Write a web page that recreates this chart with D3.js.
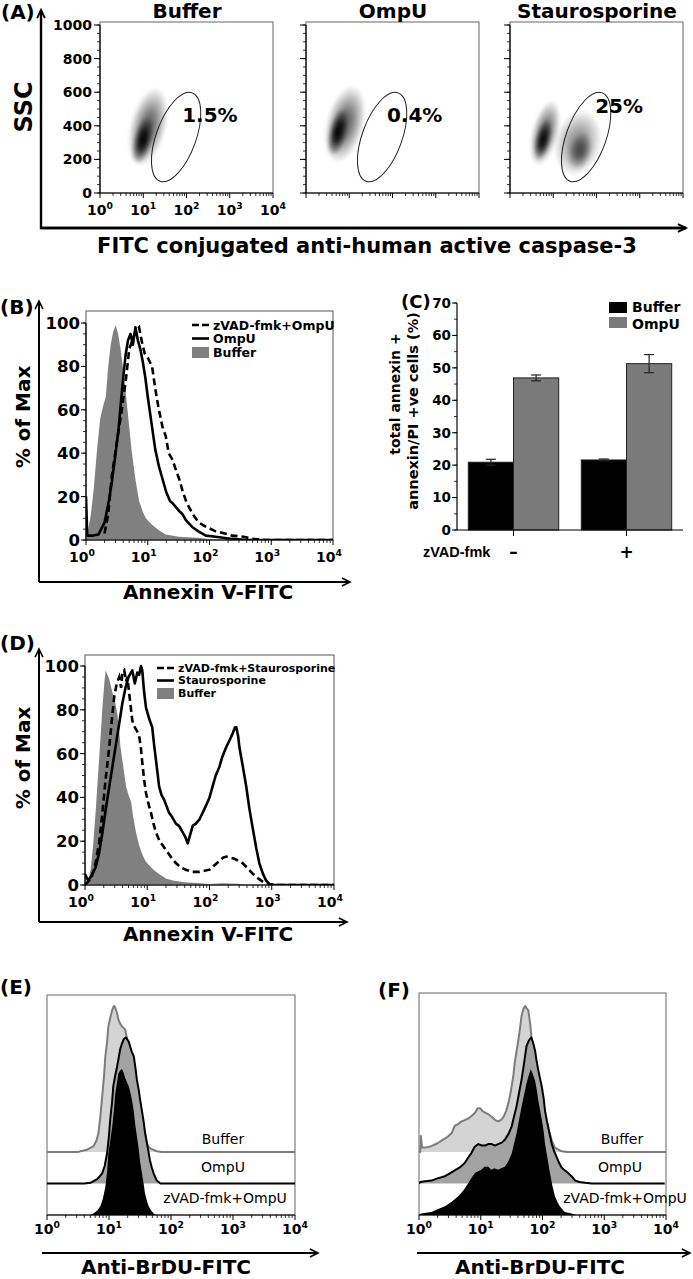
<!DOCTYPE html>
<html><head><meta charset="utf-8">
<script src="https://cdn.jsdelivr.net/npm/d3@7/dist/d3.min.js"></script>
<style>
html,body{margin:0;padding:0;background:#fff;}
svg{display:block;}
svg text{font-family:"DejaVu Sans","Liberation Sans",Arial,sans-serif;}
</style></head><body>
<svg id="fig" width="693" height="1279" viewBox="0 0 693 1279"></svg>
<script>
// ================= DATA =================
const decadeExps = [0,1,2,3,4];
const sscTicks = [0,200,400,600,800,1000];
const pctTicks = [0,20,40,60,80,100];
const barTicks = [0,10,20,30,40,50,60,70];

// Panel A : SSC vs FITC anti-active caspase-3 density plots
const aTitles = ["Buffer","OmpU","Staurosporine"];
const aGatePercent = ["1.5%","0.4%","25%"];
const aPercentAnchor = [[1.9,423],[1.87,423],[1.97,476]];   // [log10 FITC, SSC]
const aGate = [1.76, 333, 0.46, 280];                          // centre log10 FITC, centre SSC, half-width (decades), half-height (SSC)
// populations: [log10 FITC centre, SSC centre, half-width (decades), half-height (SSC), density]
const aDensBuffer = [[1.11,393,0.42,240,0.62],[0.99,315,0.23,145,1.0]];
const aDensOmpU   = [[0.9,410,0.44,235,0.62],[0.74,363,0.22,145,1.0]];
const aDensStauro = [[0.81,357,0.31,200,0.62],[0.76,315,0.19,125,0.95],[1.57,298,0.54,200,0.45],[1.62,250,0.28,115,0.55]];

// Panel B : Annexin V-FITC histograms (log10 intensity, % of max)
const bLegend = ["zVAD-fmk+OmpU","OmpU","Buffer"];
const bBuffer = [[0,0],[0.03,4],[0.08,12],[0.13,25],[0.18,42],[0.23,56],[0.28,62],[0.32,66],[0.36,80],[0.4,90],[0.44,96],[0.48,99],[0.52,95],[0.56,88],[0.6,79],[0.64,69],[0.69,55],[0.74,41],[0.8,28],[0.86,18],[0.92,13],[0.97,10],[1.07,7],[1.18,4.5],[1.29,2.5],[1.5,1.5],[1.8,1],[2.0,0.5],[2.3,0],[4,0]];
const bOmpU = [[0,20],[0.02,2],[0.1,2],[0.2,2.5],[0.3,8],[0.37,18],[0.42,27],[0.48,40],[0.53,52],[0.58,68],[0.64,85],[0.68,92],[0.72,95],[0.76,90],[0.8,98],[0.84,92],[0.88,88],[0.92,82],[0.96,75],[1.0,66],[1.04,58],[1.07,52],[1.12,42],[1.18,34],[1.24,28],[1.3,22],[1.36,18],[1.4,17],[1.46,15],[1.52,13],[1.56,12],[1.62,9],[1.72,6],[1.82,4],[1.94,2],[2.1,1.5],[2.37,0.5],[2.6,0],[4,0]];
const bZvadOmpU = [[0.3,3],[0.36,12],[0.42,30],[0.5,45],[0.59,62],[0.65,75],[0.7,88],[0.75,92],[0.8,96],[0.86,98],[0.9,92],[0.95,86],[1.0,84],[1.07,80],[1.12,70],[1.18,60],[1.24,52],[1.29,48],[1.34,40],[1.4,37],[1.46,32],[1.51,28],[1.57,22],[1.62,18],[1.67,15],[1.75,11],[1.83,8],[1.95,6],[2.1,4],[2.25,3],[2.37,2],[2.55,1.5],[2.7,0.5],[2.9,0],[4,0]];

// Panel C : bar chart
const cGroups = ["\u2013","+"];
const cSeries = ["Buffer","OmpU"];
const cBuffer = [20.9, 21.6];
const cBufferErr = [0.9, 0.3];
const cOmpU = [46.9, 51.3];
const cOmpUErr = [0.9, 2.8];

// Panel D : Annexin V-FITC histograms
const dLegend = ["zVAD-fmk+Staurosporine","Staurosporine","Buffer"];
const dBuffer = [[0,20],[0.015,1],[0.05,2],[0.09,7],[0.13,18],[0.17,33],[0.2,46],[0.23,59],[0.26,72],[0.28,81],[0.31,92],[0.33,98],[0.36,96],[0.39,94],[0.44,88],[0.48,84],[0.52,78],[0.55,70],[0.57,63],[0.61,55],[0.66,45],[0.7,41],[0.74,38],[0.78,30],[0.82,24],[0.87,18],[0.92,14],[0.97,11],[1.03,9],[1.1,7],[1.19,5],[1.3,3],[1.41,2],[1.6,1.2],[1.73,1],[2.0,0.5],[2.2,0.8],[2.45,0.6],[2.6,0],[4,0]];
const dZvadStauro = [[0,0],[0.1,3],[0.17,10],[0.23,20],[0.28,33],[0.33,48],[0.39,63],[0.43,75],[0.47,86],[0.51,92],[0.55,95],[0.58,90],[0.6,97],[0.63,98],[0.66,93],[0.68,95],[0.72,85],[0.76,75],[0.8,72],[0.84,70],[0.87,68],[0.9,62],[0.92,56],[0.95,48],[0.98,42],[1.02,37],[1.06,33],[1.1,28],[1.14,24],[1.2,20],[1.25,18],[1.3,16],[1.35,14],[1.4,12],[1.46,10],[1.54,8],[1.62,7],[1.72,6],[1.84,6],[1.92,6.5],[2.0,7],[2.08,9],[2.16,11],[2.22,12.5],[2.27,13],[2.33,12.5],[2.4,12],[2.47,11],[2.53,10],[2.6,8],[2.7,5],[2.78,3],[2.86,1.5],[2.96,0.5],[3.05,0],[4,0]];
const dStauro = [[0,5],[0.05,2],[0.1,4],[0.17,8],[0.23,15],[0.28,24],[0.33,34],[0.39,45],[0.44,54],[0.49,63],[0.54,72],[0.6,83],[0.65,90],[0.7,95],[0.76,98],[0.8,92],[0.84,97],[0.87,96],[0.9,100],[0.92,98],[0.95,88],[0.98,81],[1.03,76],[1.08,72],[1.11,64],[1.14,57],[1.17,50],[1.19,45],[1.23,41],[1.27,39],[1.31,36],[1.35,33],[1.4,31],[1.46,28],[1.51,27],[1.57,24],[1.61,22],[1.65,19],[1.69,23],[1.73,27],[1.78,28],[1.84,30],[1.89,33],[1.94,36],[2.0,40],[2.05,45],[2.1,50],[2.16,54],[2.2,58],[2.24,61],[2.27,63],[2.32,66],[2.37,69],[2.41,72],[2.43,72],[2.46,68],[2.48,63],[2.53,55],[2.59,45],[2.64,35],[2.7,25],[2.75,17],[2.8,10],[2.86,5],[2.91,2],[2.96,0.5],[3.02,0],[4,0]];

// Panels E/F : Anti-BrDU-FITC offset histograms (log10 intensity, % of max)
const efLabels = ["Buffer","OmpU","zVAD-fmk+OmpU"];
const eBuffer = [[0,0],[0.5,0],[0.54,0.5],[0.64,1.5],[0.75,4],[0.8,8],[0.83,13],[0.86,24],[0.89,38],[0.92,52],[0.94,65],[0.97,76],[0.99,86],[1.02,92],[1.05,97],[1.08,100],[1.1,99],[1.13,95],[1.15,91],[1.18,88],[1.21,86],[1.26,84],[1.29,78],[1.32,70],[1.37,59],[1.42,47],[1.46,39],[1.5,31],[1.53,24],[1.56,18],[1.59,11],[1.61,6],[1.65,3],[1.69,2],[1.77,0.5],[1.85,0],[4,0]];
const eOmpU = [[0,0],[0.6,0],[0.7,0.5],[0.81,3],[0.89,7],[0.93,12],[0.97,21],[1.0,33],[1.02,44],[1.05,56],[1.07,67],[1.1,74],[1.13,80],[1.16,87],[1.18,92],[1.21,96],[1.24,99],[1.27,100],[1.29,99],[1.32,97],[1.34,94],[1.37,90],[1.4,87],[1.43,78],[1.45,71],[1.48,64],[1.5,58],[1.53,50],[1.56,42],[1.58,35],[1.61,28],[1.64,21],[1.66,16],[1.69,11],[1.72,7],[1.77,2],[1.83,0],[4,0]];
const eZvad = [[0,0],[0.7,0],[0.75,1],[0.81,3],[0.86,6],[0.9,11],[0.94,19],[0.97,30],[0.99,42],[1.02,51],[1.05,60],[1.08,72],[1.1,83],[1.13,91],[1.15,97],[1.18,99],[1.21,100],[1.24,97],[1.26,94],[1.29,91],[1.32,88],[1.35,83],[1.37,79],[1.4,71],[1.42,63],[1.45,54],[1.48,45],[1.5,37],[1.53,29],[1.56,21],[1.58,15],[1.61,10],[1.64,6],[1.68,3],[1.72,1],[1.77,0],[4,0]];
const fBuffer = [[0,0],[0.02,0],[0.03,11],[0.05,3],[0.1,3],[0.2,4],[0.3,6],[0.37,8],[0.45,10],[0.53,13],[0.58,18],[0.63,19],[0.69,21],[0.75,22],[0.8,23],[0.86,25],[0.91,27],[0.95,30],[0.99,30],[1.03,28],[1.07,27],[1.12,26],[1.18,24],[1.23,22],[1.28,21],[1.33,22],[1.37,24],[1.41,28],[1.45,34],[1.48,40],[1.5,45],[1.53,53],[1.55,61],[1.58,69],[1.61,77],[1.64,86],[1.66,93],[1.69,98],[1.72,100],[1.75,98],[1.77,97],[1.8,88],[1.82,79],[1.85,69],[1.88,59],[1.91,51],[1.93,45],[1.96,40],[1.99,36],[2.02,31],[2.04,27],[2.07,21],[2.1,15],[2.13,11],[2.15,8],[2.2,3],[2.31,0.5],[2.4,0],[4,0]];
const fOmpU = [[0,0],[0.02,1],[0.1,1.5],[0.2,2],[0.3,3.5],[0.42,5],[0.5,7],[0.58,9],[0.66,11],[0.74,14],[0.8,18],[0.85,21],[0.9,25],[0.96,27],[1.02,26],[1.07,26],[1.12,27],[1.18,27],[1.23,26],[1.28,27],[1.34,28],[1.39,30],[1.45,34],[1.5,39],[1.54,46],[1.58,53],[1.62,62],[1.66,71],[1.7,82],[1.74,94],[1.78,98],[1.82,100],[1.85,96],[1.88,91],[1.9,85],[1.93,78],[1.96,72],[1.99,66],[2.02,58],[2.04,50],[2.07,43],[2.1,37],[2.13,31],[2.15,27],[2.19,22],[2.23,18],[2.27,14],[2.31,11],[2.36,9],[2.42,7],[2.47,5],[2.53,2],[2.6,1],[2.69,0.5],[2.8,0],[3.98,0]];
const fZvad = [[0,0],[0.03,1],[0.2,2],[0.3,4],[0.42,6],[0.53,9],[0.64,13],[0.72,17],[0.8,22],[0.86,26],[0.91,29],[0.96,30],[1.01,31],[1.06,33],[1.12,33],[1.17,31],[1.22,32],[1.28,31],[1.33,32],[1.39,33],[1.45,37],[1.5,42],[1.54,49],[1.58,56],[1.62,65],[1.66,74],[1.7,82],[1.74,90],[1.78,96],[1.81,100],[1.84,97],[1.88,92],[1.91,85],[1.93,79],[1.96,72],[1.99,65],[2.02,57],[2.04,49],[2.08,39],[2.12,29],[2.16,20],[2.2,13],[2.24,9],[2.28,6],[2.32,4],[2.36,2],[2.47,1],[2.55,0],[4,0]];

// ================= DRAWING =================
const svg = d3.select("#fig");
const defs = svg.append("defs");
let clipN = 0;
function clipRect(x,y,w,h){
  const id = "clip"+(clipN++);
  defs.append("clipPath").attr("id",id).append("rect").attr("x",x).attr("y",y).attr("width",w).attr("height",h);
  return "url(#"+id+")";
}
const grad = defs.append("radialGradient").attr("id","blob");
[[0,1],[0.35,0.82],[0.7,0.38],[1,0]].forEach(s=>grad.append("stop").attr("offset",s[0]).attr("stop-color","#000").attr("stop-opacity",s[1]));
defs.append("filter").attr("id","soft").attr("x","-50%").attr("y","-50%").attr("width","200%").attr("height","200%")
  .append("feGaussianBlur").attr("stdDeviation",1.8);

function text(g,s,x,y,size,o={}){
  const t = g.append("text").attr("x",x).attr("y",y).attr("font-size",size)
    .attr("font-weight",o.weight||"bold").attr("text-anchor",o.anchor||"start").attr("fill",o.fill||"#000").text(s);
  if(o.family) t.style("font-family",o.family);
  if(o.rot) t.attr("transform","rotate(-90,"+x+","+y+")");
  return t;
}
function line(g,x1,y1,x2,y2,w,c){
  return g.append("line").attr("x1",x1).attr("y1",y1).attr("x2",x2).attr("y2",y2).attr("stroke",c||"#000").attr("stroke-width",w||1);
}
function arrowL(g, pts, w){
  g.append("path").attr("d","M"+pts.map(p=>p.join(",")).join("L")).attr("fill","none").attr("stroke","#000").attr("stroke-width",w);
  const [x2,y2]=pts[pts.length-1],[x1,y1]=pts[pts.length-2];
  const a=Math.atan2(y2-y1,x2-x1), L=9, W=0.45;
  g.append("path").attr("d",`M${x2-L*Math.cos(a-W)},${y2-L*Math.sin(a-W)}L${x2},${y2}L${x2-L*Math.cos(a+W)},${y2-L*Math.sin(a+W)}`)
    .attr("fill","none").attr("stroke","#000").attr("stroke-width",w*0.8);
}
function logXAxis(g,x,y0,opts){
  const o=Object.assign({major:5,minor:3,labels:true,labelY:y0+20,size:14,dx:0,color:"#000"},opts);
  line(g,x.range()[0],y0,x.range()[1],y0,1.2,o.color);
  decadeExps.forEach(e=>line(g,x(Math.pow(10,e)),y0,x(Math.pow(10,e)),y0+o.major,1,o.color));
  for(let e=0;e<4;e++) for(let m=2;m<10;m++){ const v=m*Math.pow(10,e); line(g,x(v),y0,x(v),y0+o.minor,0.8,o.color); }
  if(o.labels) decadeExps.forEach(e=>{
    const t=g.append("text").attr("x",x(Math.pow(10,e))+o.dx).attr("y",o.labelY).attr("font-size",o.size)
      .attr("font-weight","bold").attr("text-anchor","middle");
    t.append("tspan").text("10");
    t.append("tspan").attr("dy",-o.size*0.45).attr("font-size",o.size*0.66).text(e);
  });
}
function linYAxis(g,y,x0,ticks,minorStep,opts){
  const o=Object.assign({major:5,minor:3,labels:true,size:14,pad:2},opts);
  const d=y.domain();
  line(g,x0,y(d[0]),x0,y(d[1]),1.2);
  for(let v=d[0]; v<=d[1]+1e-9; v+=minorStep) line(g,x0-o.minor,y(v),x0,y(v),0.8);
  ticks.forEach(v=>{
    line(g,x0-o.major,y(v),x0,y(v),1);
    if(o.labels) text(g,v,x0-o.major-o.pad,y(v),o.size,{anchor:"end"}).attr("dy","0.36em");
  });
}

// ---------- Panel A ----------
const gA = svg.append("g");
text(gA,"(A)",1,19,20);
arrowL(gA,[[686,228],[41,228],[41,10]],2.4);
arrowL(gA,[[41,228],[686,228]],2.4);
text(gA,"SSC",32,107,24,{anchor:"middle",rot:true});
text(gA,"FITC conjugated anti-human active caspase-3",367,253,21,{anchor:"middle"});
const aLeft=[100,306,510], aDens=[aDensBuffer,aDensOmpU,aDensStauro];
aLeft.forEach((L,i)=>{
  const g=gA.append("g");
  const x=d3.scaleLog().domain([1,1e4]).range([L,L+173]);
  const y=d3.scaleLinear().domain([0,1000]).range([193,25]);
  g.append("rect").attr("x",L).attr("y",22).attr("width",173).attr("height",171).attr("fill","#fff").attr("stroke","#666").attr("stroke-width",1);
  const cg=g.append("g").attr("clip-path",clipRect(L,22,173,171)).attr("filter","url(#soft)");
  aDens[i].forEach(p=>{
    const cx=x(Math.pow(10,p[0])), cy=y(p[1]);
    const rx=x(Math.pow(10,p[0]+p[2]))-cx, ry=y(0)-y(p[3]);
    cg.append("ellipse").attr("cx",cx).attr("cy",cy).attr("rx",rx).attr("ry",ry)
      .attr("fill","url(#blob)").attr("fill-opacity",p[4]).attr("transform",`rotate(14,${cx},${cy})`);
  });
  const gx=x(Math.pow(10,aGate[0])), gy=y(aGate[1]);
  g.append("ellipse").attr("cx",gx).attr("cy",gy).attr("rx",x(Math.pow(10,aGate[0]+aGate[2]))-gx).attr("ry",y(0)-y(aGate[3]))
    .attr("transform",`rotate(20,${gx},${gy})`).attr("fill","none").attr("stroke","#222").attr("stroke-width",1);
  text(g,aGatePercent[i],x(Math.pow(10,aPercentAnchor[i][0])),y(aPercentAnchor[i][1]),20);
  text(g,aTitles[i],L+87,18,20,{anchor:"middle"});
  linYAxis(g,y,L,sscTicks,50,{major:6,minor:3,labels:i===0,size:14,pad:2});
  logXAxis(g,x,193,{major:5,minor:3,labels:i===0,labelY:215,size:14});
});

// ---------- Histogram helper (B, D) ----------
function histPanel(opt){
  const g=svg.append("g");
  const x=d3.scaleLog().domain([1,1e4]).range([opt.left,opt.right]);
  const y=d3.scaleLinear().domain([0,100]).range([opt.y0,opt.y100]);
  g.append("rect").attr("x",opt.left).attr("y",opt.top).attr("width",opt.right-opt.left).attr("height",opt.y0-opt.top)
    .attr("fill","#fff").attr("stroke","#555").attr("stroke-width",1);
  const cg=g.append("g").attr("clip-path",clipRect(opt.left,opt.top-2,opt.right-opt.left,opt.y0-opt.top+2));
  const X=d=>x(Math.pow(10,d[0]));
  cg.append("path").datum(opt.fill).attr("d",d3.area().x(X).y0(y(0)).y1(d=>y(d[1]))).attr("fill","#808080");
  cg.append("path").datum(opt.solid).attr("d",d3.line().x(X).y(d=>y(d[1]))).attr("fill","none").attr("stroke","#000").attr("stroke-width",2.6).attr("stroke-linejoin","round");
  cg.append("path").datum(opt.dashed).attr("d",d3.line().x(X).y(d=>y(d[1]))).attr("fill","none").attr("stroke","#000").attr("stroke-width",2.6).attr("stroke-dasharray","7,4");
  linYAxis(g,y,opt.left,pctTicks,5,{major:5,minor:3,size:16.5,pad:1});
  logXAxis(g,x,opt.y0,{major:5,minor:3,labelY:opt.y0+22,size:14,dx:-4});
  // legend
  const lg=g.append("g");
  opt.legend.forEach((s,i)=>{
    const ly=opt.legY+i*opt.legStep;
    if(i===0) line(lg,opt.legX,ly,opt.legX+opt.legW,ly,2.6).attr("stroke-dasharray","7,3");
    if(i===1) line(lg,opt.legX,ly,opt.legX+opt.legW,ly,2.6);
    if(i===2) lg.append("rect").attr("x",opt.legX).attr("y",ly-5).attr("width",opt.legW).attr("height",11).attr("fill","#808080");
    text(lg,s,opt.legX+opt.legW+4,ly,opt.legSize).attr("dy","0.36em");
  });
  arrowL(g,[[opt.axX,opt.axY],[opt.axX,opt.axTop]],2);
  arrowL(g,[[opt.axX,opt.axY],[opt.axRight,opt.axY]],2);
  text(g,"% of Max",30,opt.ylabY,20,{anchor:"middle",rot:true});
  text(g,"Annexin V-FITC",208,opt.xlabY,20,{anchor:"middle"});
  text(g,opt.letter,0,opt.letterY,20);
}
histPanel({left:86,right:333,top:311,y0:540,y100:323,fill:bBuffer,solid:bOmpU,dashed:bZvadOmpU,
  legend:bLegend,legX:192,legW:17,legY:325,legStep:13.5,legSize:12.5,
  axX:39,axY:582,axTop:301,axRight:350,ylabY:417,xlabY:599,letter:"(B)",letterY:314});
histPanel({left:85,right:334,top:655,y0:885,y100:666,fill:dBuffer,solid:dStauro,dashed:dZvadStauro,
  legend:dLegend,legX:157,legW:17,legY:668,legStep:12.5,legSize:11,
  axX:39,axY:922,axTop:649,axRight:347,ylabY:758,xlabY:941,letter:"(D)",letterY:650});

// ---------- Panel C ----------
(function(){
  const g=svg.append("g");
  const y=d3.scaleLinear().domain([0,70]).range([530,303]);
  const x0=d3.scaleBand().domain(cGroups).range([457,683]).paddingInner(0.2).paddingOuter(0.1);
  const x1=d3.scaleBand().domain(cSeries).range([0,x0.bandwidth()]);
  const vals=[cBuffer,cOmpU], errs=[cBufferErr,cOmpUErr], cols=["#000","#7a7a7a"];
  cSeries.forEach((s,si)=>{
    cGroups.forEach((c,ci)=>{
      const bx=x0(c)+x1(s), v=vals[si][ci], e=errs[si][ci];
      g.append("rect").attr("x",bx).attr("y",y(v)).attr("width",x1.bandwidth()).attr("height",y(0)-y(v))
        .attr("fill",cols[si]).attr("stroke","#222").attr("stroke-width",1);
      const cx=bx+x1.bandwidth()/2;
      line(g,cx,y(v+e),cx,y(v-e),1.2,"#222");
      line(g,cx-5,y(v+e),cx+5,y(v+e),1.2,"#222");
      line(g,cx-5,y(v-e),cx+5,y(v-e),1.2,"#222");
    });
  });
  linYAxis(g,y,457,barTicks,5,{major:5,minor:3,size:13.5,pad:1});
  line(g,457,530,683,530,1.2);
  cGroups.forEach(c=>{
    const cx=x0(c)+x0.bandwidth()/2;
    line(g,cx,530,cx,536,1);
    text(g,c,cx,558,17,{anchor:"middle"});
  });
  text(g,"zVAD-fmk",423,557,14.5,{family:'"Liberation Sans",Arial,sans-serif'});
  text(g,"total annexin +",400,394,14,{anchor:"middle",rot:true});
  text(g,"annexin/PI +ve cells (%)",418,411,14.5,{anchor:"middle",rot:true});
  text(g,"(C)",401,308,18);
  cSeries.forEach((s,i)=>{
    g.append("rect").attr("x",609).attr("y",302+i*15).attr("width",18).attr("height",11).attr("fill",cols[i]);
    text(g,s,632,312+i*17,14);
  });
})();

// ---------- Panels E, F ----------
function offsetPanel(opt){
  const g=svg.append("g");
  const x=d3.scaleLog().domain([1,1e4]).range([opt.left,opt.right]);
  const bottom=1215, step=31.5, H=146;
  g.append("rect").attr("x",opt.left).attr("y",opt.top).attr("width",opt.right-opt.left).attr("height",bottom-opt.top)
    .attr("fill","#fff").attr("stroke","#666").attr("stroke-width",1);
  const cg=g.append("g").attr("clip-path",clipRect(opt.left,opt.top,opt.right-opt.left,bottom-opt.top));
  const X=d=>x(Math.pow(10,d[0]));
  const series=[[opt.data[0],"#d4d4d4","#7c7c7c",2],[opt.data[1],"#a3a3a3","#000",1],[opt.data[2],"#000",null,0]];
  series.forEach(([data,fill,stroke,k])=>{
    const y=d3.scaleLinear().domain([0,100]).range([bottom-k*step,bottom-k*step-H]);
    cg.append("path").datum(data).attr("d",d3.area().x(X).y0(y(0)).y1(d=>y(d[1]))).attr("fill",fill);
    if(stroke) cg.append("path").datum(data).attr("d",d3.line().x(X).y(d=>y(d[1]))).attr("fill","none").attr("stroke",stroke).attr("stroke-width",2).attr("stroke-linejoin","round");
  });
  efLabels.forEach((s,i)=>text(g,s,opt.labX[i],[1144,1172,1203][i],14,{anchor:"middle",weight:"normal"}));
  logXAxis(g,x,bottom,{major:5,minor:3,labelY:1234,size:14,dx:0});
  arrowL(g,[[opt.arL,1253],[opt.arR,1253]],2);
  text(g,"Anti-BrDU-FITC",opt.titleX,1274,20,{anchor:"middle"});
  text(g,opt.letter,opt.letX,opt.letY,20);
}
offsetPanel({left:47,right:295,top:995,data:[eBuffer,eOmpU,eZvad],labX:[223,223,225],arL:42,arR:318,titleX:166,letter:"(E)",letX:0,letY:994});
offsetPanel({left:419,right:666,top:993,data:[fBuffer,fOmpU,fZvad],labX:[622,620,625],arL:417,arR:690,titleX:540,letter:"(F)",letX:378,letY:997});
</script>
</body></html>
